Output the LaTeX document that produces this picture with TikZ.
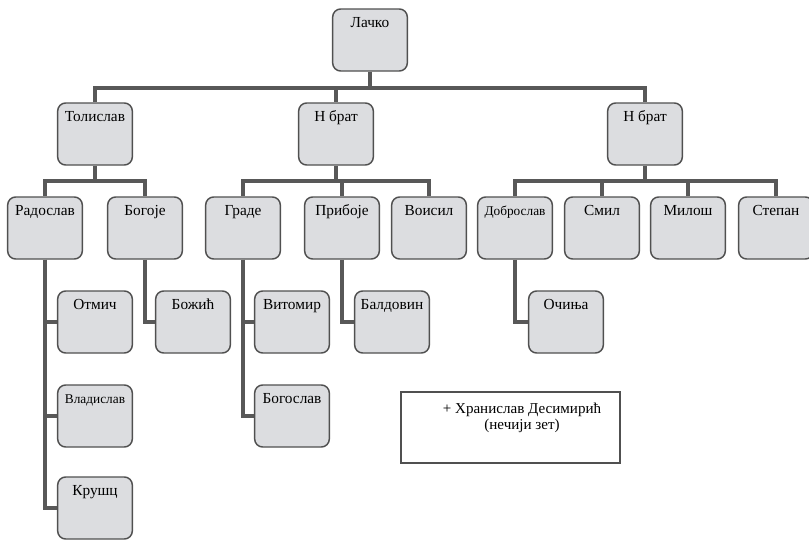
\documentclass[tikz,border=0pt]{standalone}
\usepackage{fontspec}
\setmainfont{Liberation Serif}
\usepackage{tikz}
\definecolor{boxfill}{RGB}{220,221,224}
\definecolor{boxline}{RGB}{80,80,80}
\definecolor{linkcol}{RGB}{88,88,88}
\tikzset{
    person/.style={draw=boxline, fill=boxfill, line width=1.1pt, rounded corners=6pt,
        minimum width=56pt, minimum height=46.5pt, inner xsep=2pt, inner ysep=5.6pt,
        text height=8.2pt, text depth=27.1pt, font=\fontsize{11.5}{13}\selectfont},
    smallname/.style={font=\fontsize{10}{12}\selectfont},
    link/.style={draw=linkcol, line width=3pt},
    notebox/.style={draw=boxline, line width=1.1pt, minimum width=164pt, minimum height=53pt}
}

\begin{document}
\begin{tikzpicture}[x=0.75pt, y=-0.75pt]
    \useasboundingbox (0,0) rectangle (809,539);

    % generations
    \node[person] (lacko) at (370,40) {Лачко};

    \node[person] (tol) at (95,134) {Толислав};
    \node[person] (nb1) at (336,134) {Н брат};
    \node[person] (nb2) at (645,134) {Н брат};

    \node[person] (rad) at (45,228) {Радослав};
    \node[person] (bog) at (145,228) {Богоје};
    \node[person] (grade) at (243,228) {Граде};
    \node[person] (prib) at (342,228) {Прибоје};
    \node[person] (vois) at (429,228) {Воисил};
    \node[person, smallname] (dobr) at (515,228) {Доброслав};
    \node[person] (smil) at (602,228) {Смил};
    \node[person] (milos) at (688,228) {Милош};
    \node[person] (step) at (776,228) {Степан};

    \node[person] (otm) at (95,322) {Отмич};
    \node[person, smallname] (vlad) at (95,416) {Владислав};
    \node[person] (krus) at (95,508) {Крушц};
    \node[person] (boz) at (193,322) {Божић};
    \node[person] (vit) at (292,322) {Витомир};
    \node[person] (bogos) at (292,416) {Богослав};
    \node[person] (bald) at (392,322) {Балдовин};
    \node[person] (ocin) at (566,322) {Очиња};

    \node[notebox] (note) at (510.5,427.5) {};
    \node[anchor=north, inner sep=0pt, align=center, font=\fontsize{11.3}{11.5}\selectfont]
        (notetext) at (522,403) {+ Хранислав Десимирић\\(нечији зет)};

    % bars
    \coordinate (b0) at (370,88);
    \coordinate (b1) at (95,181);
    \coordinate (b2) at (336,181);
    \coordinate (b3) at (645,181);

    \draw[link] (lacko) -- (b0);
    \draw[link] (b0) -| (tol);
    \draw[link] (b0) -| (nb1);
    \draw[link] (b0) -| (nb2);

    \draw[link] (tol) -- (b1);
    \draw[link] (b1) -| (rad);
    \draw[link] (b1) -| (bog);

    \draw[link] (nb1) -- (b2);
    \draw[link] (b2) -| (grade);
    \draw[link] (b2) -| (prib);
    \draw[link] (b2) -| (vois);

    \draw[link] (nb2) -- (b3);
    \draw[link] (b3) -| (dobr);
    \draw[link] (b3) -| (smil);
    \draw[link] (b3) -| (milos);
    \draw[link] (b3) -| (step);

    % descendants
    \draw[link] (rad.south) |- (otm.west);
    \draw[link] (rad.south) |- (vlad.west);
    \draw[link] (rad.south) |- (krus.west);
    \draw[link] (bog.south) |- (boz.west);
    \draw[link] (grade.south) |- (vit.west);
    \draw[link] (grade.south) |- (bogos.west);
    \draw[link] (prib.south) |- (bald.west);
    \draw[link] (dobr.south) |- (ocin.west);
\end{tikzpicture}
\end{document}
